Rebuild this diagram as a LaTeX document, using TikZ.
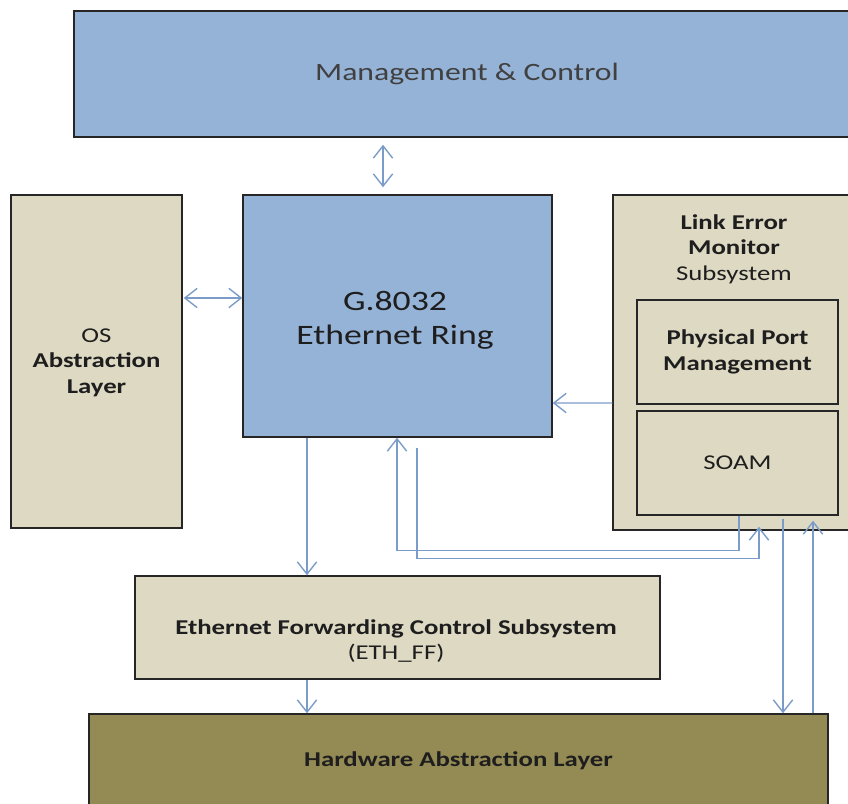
\documentclass[tikz,border=0pt]{standalone}
\usepackage{fontspec}
\setmainfont{Carlito}[FakeStretch=1.27]
\usetikzlibrary{arrows.meta,calc}
\definecolor{boxblue}{HTML}{95B3D7}
\definecolor{boxtan}{HTML}{DDD9C3}
\definecolor{boxolive}{HTML}{948A54}
\definecolor{arrowblue}{HTML}{7B9CC9}
\definecolor{edgecol}{HTML}{262626}
\definecolor{txtcol}{HTML}{1E1E1E}
\begin{document}
\begin{tikzpicture}[x=0.02cm,y=-0.02cm,
  box/.style={draw=edgecol, line width=0.85pt, inner sep=0pt, align=center,
    text=txtcol, font=\fontsize{12}{14.5}\selectfont},
  lbl/.style={inner sep=0pt, align=center, text=txtcol, font=\fontsize{12}{14.5}\selectfont},
  conn/.style={draw=arrowblue, line width=0.8pt},
  >={Straight Barb[length=7pt,width=11pt]}]
\useasboundingbox (0,0) rectangle (848,804);
\clip (0,0) rectangle (848,804);

% boxes
\node[box, fill=boxblue, minimum width=15.72cm, minimum height=2.52cm,
  font=\fontsize{14.2}{17}\selectfont, text=txtcol!85] (mgmt) at (467,74) {Management \& Control};
\node[box, fill=boxblue, minimum width=6.18cm, minimum height=4.84cm] (ring) at (397.5,316) {};
\node[lbl, font=\fontsize{16}{19.3}\selectfont] (ringtxt) at (395,320) {G.8032\\Ethernet Ring};
\node[box, fill=boxtan, minimum width=3.42cm, minimum height=6.66cm] (os) at (96.5,361.5) {};
\node[lbl] (ostxt) at (96.5,362.5) {OS\\\textbf{Abstraction}\\\textbf{Layer}};
\node[box, fill=boxtan, minimum width=4.86cm, minimum height=6.7cm] (lem) at (734.5,362.5) {};
\node[lbl] (lemtxt) at (734,249) {\textbf{Link Error}\\\textbf{Monitor}\\Subsystem};
\node[box, fill=boxtan, minimum width=4.02cm, minimum height=2.08cm] (ppm) at (737.5,352)
  {\textbf{Physical Port}\\\textbf{Management}};
\node[box, fill=boxtan, minimum width=4.02cm, minimum height=2.08cm] (soam) at (737.5,463) {SOAM};
\node[box, fill=boxtan, minimum width=10.5cm, minimum height=2.06cm] (eth) at (397.5,627.5) {};
\node[lbl] (ethtxt) at (396,641) {\textbf{Ethernet Forwarding Control Subsystem}\\(ETH\_FF)};
\node[box, fill=boxolive, minimum width=14.78cm, minimum height=1.88cm] (hal) at (458.5,761)
  {\textbf{Hardware Abstraction Layer}};

% connectors
\draw[conn,<->] ($(mgmt.south)+(-84,7)$) -- ($(ring.north)+(-14.5,-7)$);
\draw[conn,<->] ($(os.east)+(1,-63.5)$) -- ($(ring.west)+(0,-18)$);
\draw[conn,->] ($(lem.west)+(0,40.5)$) -- ($(ring.east)+(0,87)$);
\draw[conn,->] ($(ring.south)+(-90.5,0)$) -- ($(eth.north)+(-90.5,0)$);
\draw[conn,->] ($(eth.south)+(-90.5,0)$) -- ($(hal.north)+(-151.5,0)$);
\draw[conn,->] ($(soam.south)+(1.5,0)$) -- ++(0,35) -| ($(ring.south)+(-0.5,0)$);
\draw[conn,->] ($(ring.south)+(19.5,10)$) -- ++(0,111) -| ($(soam.south)+(21.5,11)$);
\draw[conn,->] ($(soam.south)+(45.5,3)$) -- ($(hal.north)+(324.5,0)$);
\draw[conn,->] ($(hal.north)+(354.5,0)$) -- ($(soam.south)+(75.5,5)$);
\end{tikzpicture}
\end{document}
